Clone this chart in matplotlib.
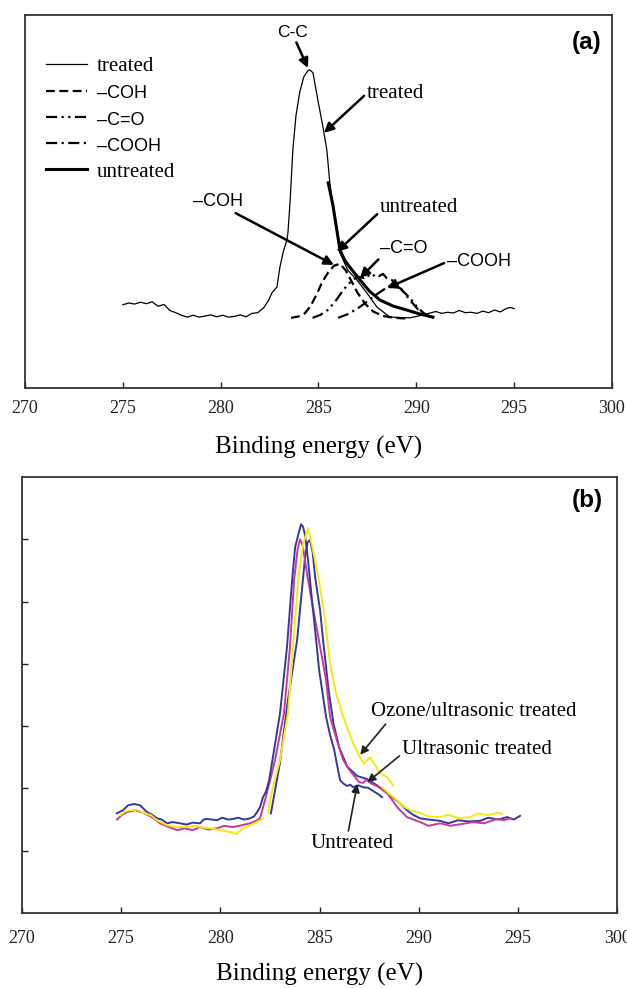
import matplotlib
matplotlib.use('Agg')
import matplotlib.pyplot as plt

# ---------------- panel (a) : C1s fit, arbitrary intensity units ----------------
treated_ev = [275.0, 275.3, 275.6, 275.9, 276.2, 276.5, 276.8, 277.1, 277.4, 277.7,
              278.0, 278.3, 278.6, 278.9, 279.2, 279.5, 279.8, 280.1, 280.4, 280.7,
              281.0, 281.3, 281.6, 281.9, 282.2, 282.45, 282.62, 282.88, 283.03, 283.2,
              283.39, 283.44, 283.55, 283.69, 283.85, 284.05, 284.25, 284.45, 284.56, 284.72,
              284.97, 285.23, 285.43, 285.58, 285.84, 286.10, 286.5, 286.96, 287.47, 287.99,
              288.65, 289.2, 289.67, 290.2, 290.7, 291.0, 291.3, 291.6, 291.9, 292.2,
              292.5, 292.8, 293.1, 293.4, 293.7, 294.0, 294.3, 294.6, 294.8, 295.0]
treated_int = [22.3, 22.8, 22.5, 23.0, 22.6, 23.1, 21.9, 22.4, 20.8, 20.2,
               19.5, 19.0, 19.5, 19.0, 19.3, 19.6, 19.1, 19.5, 19.0, 19.2,
               19.6, 19.1, 20.0, 20.2, 21.5, 23.5, 25.5, 27.1, 32.4, 36.5,
               39.7, 41.6, 50.0, 63.8, 73.0, 79.5, 83.4, 85.0, 85.3, 84.5,
               77.2, 70.0, 63.8, 55.0, 45.0, 36.2, 31.6, 29.0, 25.5, 21.7,
               19.0, 18.9, 18.8, 19.4, 20.1, 20.5, 20.0, 20.3, 20.1, 20.8,
               20.2, 20.3, 20.0, 20.6, 20.2, 20.9, 20.4, 21.3, 21.6, 21.3]

untreated_ev = [285.5, 285.62, 285.74, 285.92, 286.10, 286.35, 286.6, 287.12, 287.6, 288.14,
                288.8, 289.52, 290.2, 290.85]
untreated_int = [55.0, 52.0, 49.0, 43.0, 37.0, 34.2, 32.4, 29.0, 26.0, 23.6,
                 22.0, 20.9, 19.8, 19.0]

coh_ev = [283.6, 284.0, 284.3, 284.6, 284.9, 285.2, 285.5, 285.8, 286.1, 286.4,
          286.7, 287.0, 287.4, 287.8, 288.3, 288.9, 289.6]
coh_int = [18.8, 19.2, 20.0, 22.0, 25.0, 28.5, 31.0, 32.8, 33.3, 31.5,
           28.5, 25.5, 22.5, 20.5, 19.3, 18.8, 18.6]

co_ev = [284.7, 285.1, 285.5, 285.9, 286.3, 286.7, 287.0, 287.3, 287.5, 287.7,
         287.9, 288.1, 288.3, 288.5, 288.7, 289.0, 289.3, 289.67, 290.0, 290.35, 290.7]
co_int = [18.8, 19.6, 21.0, 23.5, 26.5, 28.8, 29.8, 29.5, 30.3, 29.6,
          30.5, 30.0, 30.6, 29.4, 29.0, 28.4, 26.0, 24.2, 22.0, 20.2, 19.0]

cooh_ev = [286.0, 286.5, 287.0, 287.5, 288.0, 288.4, 288.65, 288.9, 289.16, 289.4,
           289.67, 290.1, 290.5, 290.9]
cooh_int = [18.8, 19.8, 21.3, 23.2, 25.2, 26.6, 27.4, 27.3, 26.8, 25.5,
            23.6, 21.0, 19.6, 18.8]

# ---------------- panel (b) : raw spectra ----------------
blue_ev = [274.78, 275.09, 275.35, 275.65, 275.95, 276.30, 276.55, 276.81, 277.05, 277.31,
           277.6, 277.97, 278.3, 278.6, 278.98, 279.15, 279.33, 279.6, 279.83, 280.1,
           280.4, 280.64, 280.9, 281.2, 281.50, 281.7, 281.85, 282.0, 282.15, 282.3,
           282.46, 282.7, 283.01, 283.36, 283.62, 283.77, 283.95, 284.07, 284.17, 284.27,
           284.42, 284.62, 284.83, 284.98, 285.13, 285.33, 285.53, 285.74, 285.9, 286.04,
           286.2, 286.39, 286.55, 286.69, 286.94, 287.20, 287.45, 287.6, 287.80, 288.0, 288.15]
blue_int = [1.60, 1.65, 1.73, 1.75, 1.73, 1.62, 1.58, 1.52, 1.50, 1.44,
            1.46, 1.44, 1.42, 1.45, 1.44, 1.50, 1.51, 1.50, 1.49, 1.53,
            1.50, 1.51, 1.53, 1.50, 1.52, 1.55, 1.62, 1.70, 1.86, 1.95,
            2.13, 2.6, 3.21, 4.27, 5.35, 5.87, 6.10, 6.24, 6.20, 6.07,
            5.67, 5.02, 4.38, 3.90, 3.58, 3.15, 2.86, 2.62, 2.35, 2.13,
            2.08, 2.04, 2.06, 2.02, 2.05, 2.02, 2.01, 1.98, 1.94, 1.90, 1.86]

blue2_ev = [282.55, 283.0, 283.4, 283.87, 284.10, 284.27, 284.40, 284.52, 284.65, 284.78,
            285.03, 285.18, 285.45, 285.7, 286.0, 286.4, 286.9, 287.4, 287.9, 288.3,
            288.71, 289.0, 289.41, 289.7, 290.07, 290.5, 291.08, 291.5, 292.0, 292.5,
            293.10, 293.5, 294.0, 294.46, 294.8, 295.11]
blue2_int = [1.60, 2.40, 3.40, 4.38, 5.14, 5.71, 5.95, 5.99, 5.80, 5.39,
             4.86, 4.38, 3.60, 3.05, 2.65, 2.35, 2.20, 2.15, 2.05, 1.95,
             1.85, 1.78, 1.65, 1.58, 1.52, 1.50, 1.48, 1.44, 1.49, 1.47,
             1.48, 1.53, 1.50, 1.54, 1.50, 1.56]

magenta_ev = [274.79, 275.05, 275.30, 275.7, 276.10, 276.5, 276.96, 277.4, 277.82, 278.2,
              278.6, 278.98, 279.4, 279.83, 280.2, 280.64, 281.1, 281.50, 281.8, 282.00,
              282.25, 282.51, 282.76, 283.21, 283.51, 283.72, 283.9, 284.02, 284.15, 284.42,
              284.72, 285.03, 285.33, 285.53, 285.87, 286.19, 286.5, 286.8, 287.0, 287.2,
              287.35, 287.6, 288.0, 288.41, 288.91, 289.41, 290.07, 290.5, 291.08, 291.6,
              292.2, 292.74, 293.3, 293.95, 294.3, 294.61]
magenta_int = [1.50, 1.58, 1.62, 1.65, 1.61, 1.55, 1.44, 1.38, 1.33, 1.36,
               1.33, 1.38, 1.34, 1.36, 1.40, 1.38, 1.41, 1.44, 1.48, 1.52,
               1.81, 2.13, 2.46, 3.21, 4.27, 5.35, 5.85, 6.00, 5.90, 5.35,
               4.82, 4.27, 3.74, 3.15, 2.78, 2.46, 2.30, 2.18, 2.10, 2.09,
               2.14, 2.08, 2.02, 1.93, 1.70, 1.54, 1.46, 1.40, 1.44, 1.40,
               1.43, 1.46, 1.44, 1.51, 1.49, 1.52]

yellow1_ev = [274.94, 275.2, 275.45, 275.8, 276.10, 276.5, 276.81, 277.31, 277.8, 278.32,
              278.7, 278.98, 279.48, 280.0, 280.49, 280.8, 281.14, 281.6, 282.00, 282.15]
yellow1_int = [1.57, 1.63, 1.65, 1.66, 1.61, 1.57, 1.49, 1.41, 1.38, 1.38,
               1.40, 1.38, 1.36, 1.33, 1.30, 1.27, 1.36, 1.42, 1.49, 1.52]
yellow2_ev = [282.41, 282.61, 283.01, 283.41, 283.67, 283.92, 284.17, 284.42, 284.67, 285.03,
              285.28, 285.53, 285.83, 286.19, 286.69, 287.04, 287.25, 287.40, 287.55, 287.75,
              288.05, 288.41, 288.71]
yellow2_int = [1.61, 1.97, 2.46, 3.21, 4.27, 5.35, 5.91, 6.18, 5.83, 5.23,
               4.70, 4.01, 3.53, 3.15, 2.73, 2.50, 2.40, 2.45, 2.50, 2.40,
               2.25, 2.18, 2.05]
yellow3_ev = [288.20, 288.5, 288.91, 289.2, 289.57, 290.07, 290.5, 291.08, 291.5, 292.0,
              292.59, 293.0, 293.5, 293.95, 294.21]
yellow3_int = [2.01, 1.92, 1.81, 1.72, 1.65, 1.61, 1.55, 1.54, 1.58, 1.52,
               1.54, 1.60, 1.57, 1.61, 1.59]

xticks = [270, 275, 280, 285, 290, 295, 300]

SERIF = ['Liberation Serif', 'DejaVu Serif']
SANS = ['Liberation Sans', 'DejaVu Sans']
BLUE = '#343a9c'
MAGENTA = '#c8389e'
YELLOW = '#f2ea10'


def style_axes(ax, pad):
    ax.set_xlim(270, 300)
    ax.set_xticks(xticks)
    ax.set_xticklabels([str(t) for t in xticks], fontfamily=SERIF, fontsize=13)
    ax.tick_params(axis='x', direction='in', length=4, width=1, pad=pad, colors='#222')
    for s in ax.spines.values():
        s.set_linewidth(1.3)
        s.set_color('#333333')


def main():
    fig = plt.figure(figsize=(6.27, 9.88), dpi=100)

    # ---------- (a) ----------
    ax1 = fig.add_axes([0.0399, 0.6073, 0.936, 0.3775])
    style_axes(ax1, 9)
    ax1.set_ylim(0, 100)
    ax1.set_yticks([])
    ax1.plot(treated_ev, treated_int, color='black', lw=0.9, label='treated')
    ax1.plot(coh_ev, coh_int, color='black', lw=1.6, ls=(0, (4, 2)), label='\u2013COH')
    ax1.plot(co_ev, co_int, color='black', lw=1.6, ls=(0, (5, 2, 1, 2, 1, 2)), label='\u2013C=O')
    ax1.plot(cooh_ev, cooh_int, color='black', lw=1.6, ls=(0, (5, 2, 1, 2)), label='\u2013COOH')
    ax1.plot(untreated_ev, untreated_int, color='black', lw=2.2, label='untreated')
    ax1.set_xlabel('Binding energy (eV)', fontfamily=SERIF, fontsize=18, labelpad=13)

    leg = ax1.legend(loc='upper left', bbox_to_anchor=(0.035, 0.888), frameon=False,
                     borderpad=0, borderaxespad=0, handlelength=2.0, handletextpad=0.45,
                     labelspacing=0.36, prop={'family': SERIF, 'size': 15})
    for t in leg.get_texts():
        if t.get_text().startswith('\u2013'):
            t.set_fontfamily(SANS)
            t.set_fontsize(13)

    arrow = dict(arrowstyle='-|>', color='black', lw=1.8, mutation_scale=14, shrinkA=0, shrinkB=0)
    ax1.annotate('C-C', xy=(284.46, 85.8), xytext=(283.65, 95.4), ha='center', va='center',
                 fontfamily=SANS, fontsize=12.5, arrowprops=dict(arrow, relpos=(0.6, 0)))
    ax1.annotate('treated', xy=(285.28, 68.4), xytext=(287.47, 79.0), ha='left', va='center',
                 fontfamily=SERIF, fontsize=15, arrowprops=dict(arrow, relpos=(0, 0.5)))
    ax1.annotate('untreated', xy=(285.94, 36.5), xytext=(288.14, 48.3), ha='left', va='center',
                 fontfamily=SERIF, fontsize=15, arrowprops=dict(arrow, relpos=(0, 0.3)))
    ax1.annotate('\u2013COH', xy=(285.79, 33.0), xytext=(279.86, 49.9), ha='center', va='center',
                 fontfamily=SANS, fontsize=13, arrowprops=dict(arrow, relpos=(0.75, 0)))
    ax1.annotate('\u2013C=O', xy=(287.12, 29.5), xytext=(288.14, 37.5), ha='left', va='center',
                 fontfamily=SANS, fontsize=13, arrowprops=dict(arrow, relpos=(0.1, 0.2)))
    ax1.annotate('\u2013COOH', xy=(288.5, 26.8), xytext=(291.56, 33.8), ha='left', va='center',
                 fontfamily=SANS, fontsize=13, arrowprops=dict(arrow, relpos=(0, 0.5)))
    ax1.text(0.982, 0.925, '(a)', transform=ax1.transAxes, ha='right', va='center',
             fontfamily=SANS, fontweight='bold', fontsize=17.5)

    # ---------- (b) ----------
    ax2 = fig.add_axes([0.0351, 0.0759, 0.949, 0.4413])
    style_axes(ax2, 12)
    ax2.set_ylim(0, 7)
    ax2.set_yticks([1, 2, 3, 4, 5, 6])
    ax2.set_yticklabels([])
    ax2.tick_params(axis='y', direction='in', length=4, width=1, colors='#222')
    ax2.plot(blue2_ev, blue2_int, color=BLUE, lw=1.4)
    ax2.plot(magenta_ev, magenta_int, color=MAGENTA, lw=1.4)
    ax2.plot(blue_ev, blue_int, color=BLUE, lw=1.4)
    ax2.plot(yellow1_ev, yellow1_int, color=YELLOW, lw=1.4)
    ax2.plot(yellow2_ev, yellow2_int, color=YELLOW, lw=1.4)
    ax2.plot(yellow3_ev, yellow3_int, color=YELLOW, lw=1.4)
    ax2.set_xlabel('Binding energy (eV)', fontfamily=SERIF, fontsize=18, labelpad=12)

    arrow2 = dict(arrowstyle='-|>', color='#222', lw=1.2, mutation_scale=12, shrinkA=0, shrinkB=0)
    ax2.annotate('Ozone/ultrasonic treated', xy=(287.05, 2.54), xytext=(292.8, 3.23),
                 ha='center', va='center', fontfamily=SERIF, fontsize=15,
                 arrowprops=dict(arrow2, relpos=(0.08, 0.0)))
    ax2.annotate('Ultrasonic treated', xy=(287.41, 2.10), xytext=(292.95, 2.62),
                 ha='center', va='center', fontfamily=SERIF, fontsize=15,
                 arrowprops=dict(arrow2, relpos=(0.0, 0.3)))
    ax2.annotate('Untreated', xy=(286.9, 2.07), xytext=(286.64, 1.12),
                 ha='center', va='center', fontfamily=SERIF, fontsize=15,
                 arrowprops=dict(arrow2, relpos=(0.45, 1.0)))
    ax2.text(0.977, 0.947, '(b)', transform=ax2.transAxes, ha='right', va='center',
             fontfamily=SANS, fontweight='bold', fontsize=17.5)

    fig.savefig('out.png', dpi=100)


if __name__ == '__main__':
    main()
